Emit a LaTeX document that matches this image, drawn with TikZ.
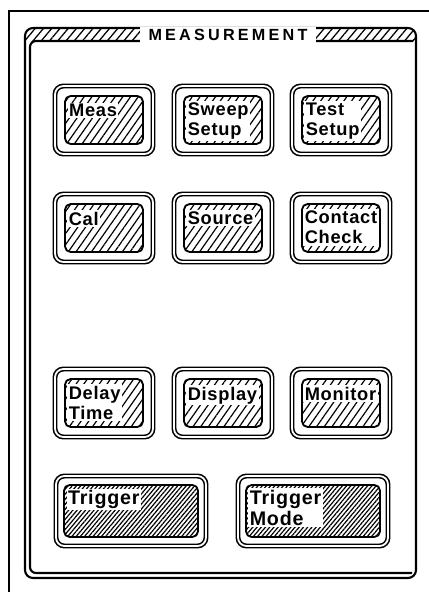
\documentclass[tikz,border=0pt]{standalone}
\usepackage{fontspec}
\usetikzlibrary{patterns.meta}
\newfontfamily\keyfont{Liberation Sans Bold}[LetterSpace=4]
\newfontfamily\titlefont{Liberation Sans Bold}[LetterSpace=20]

\tikzset{
  keyrim/.style={draw, double, double distance=1.3pt, line width=1.1pt,
                 rounded corners=6pt, minimum width=24.5mm, minimum height=17mm},
  keyface/.style={draw, line width=1.3pt, rounded corners=4pt,
                  minimum width=19.5mm, minimum height=12mm,
                  pattern={Lines[angle=55,distance=4.5pt,line width=0.85pt]}},
  trigrim/.style={keyrim, minimum width=37.5mm, minimum height=17.5mm},
  trigface/.style={keyface, minimum width=33.5mm, minimum height=13mm,
                   pattern={Lines[angle=50,distance=2.3pt,line width=0.85pt]}},
  keytext/.style={anchor=north west, fill=white, inner sep=1pt, align=left,
                  font=\keyfont\fontsize{13}{14.5}\selectfont},
  trigtext/.style={keytext, font=\keyfont\fontsize{14}{15.5}\selectfont},
  panelline/.style={line width=1.5pt}
}

\begin{document}
\begin{tikzpicture}[x=0.25mm, y=-0.25mm]
    \useasboundingbox (0,0) rectangle (429,592);
    % outer frame (cut by the page)
    \draw[line width=2pt] (9,620) |- (450,11);
    % panel with hatched title band
    \begin{scope}
        \clip[rounded corners=2mm] (25,28) rectangle (416,578);
        \fill[pattern={Lines[angle=50,distance=4.5pt,line width=0.9pt]}]
            (25,28) rectangle (416,41);
    \end{scope}
    \draw[panelline, rounded corners=2mm] (25,28) rectangle (416,578);
    \draw[panelline, rounded corners=1.5mm] (413,41) -| (30,573) -- (412,573);
    \node[fill=white, inner xsep=6pt, inner ysep=1.6pt,
          font=\titlefont\fontsize{11.5}{12.5}\selectfont]
          (title) at (228,35) {MEASUREMENT};

    % first row
    \node[keyrim]  (meas)      at (104,120) {};
    \node[keyface] (measface)  at (meas) {};
    \node[keytext] (meastext)  at ([shift={(3,7)}]measface.north west) {Meas};
    \node[keyrim]  (sweep)     at (223,120) {};
    \node[keyface] (sweepface) at (sweep) {};
    \node[keytext] (sweeptext) at ([shift={(3,6)}]sweepface.north west) {Sweep\\Setup};
    \node[keyrim]  (test)      at (341,120) {};
    \node[keyface] (testface)  at (test) {};
    \node[keytext] (testtext)  at ([shift={(3,6)}]testface.north west) {Test\\Setup};

    % second row
    \node[keyrim]  (cal)         at (104,228) {};
    \node[keyface] (calface)     at (cal) {};
    \node[keytext] (caltext)     at ([shift={(3,7)}]calface.north west) {Cal};
    \node[keyrim]  (source)      at (223,228) {};
    \node[keyface] (sourceface)  at (source) {};
    \node[keytext] (sourcetext)  at ([shift={(3,7)}]sourceface.north west) {Source};
    \node[keyrim]  (contact)     at (341,228) {};
    \node[keyface] (contactface) at (contact) {};
    \node[keytext] (contacttext) at ([shift={(2,6)}]contactface.north west) {Contact\\Check};

    % third row
    \node[keyrim]  (delay)       at (104,403) {};
    \node[keyface] (delayface)   at (delay) {};
    \node[keytext] (delaytext)   at ([shift={(3,6)}]delayface.north west) {Delay\\Time};
    \node[keyrim]  (display)     at (223,403) {};
    \node[keyface] (displayface) at (display) {};
    \node[keytext] (displaytext) at ([shift={(3,7)}]displayface.north west) {Display};
    \node[keyrim]  (monitor)     at (341,403) {};
    \node[keyface] (monitorface) at (monitor) {};
    \node[keytext] (monitortext) at ([shift={(2,7)}]monitorface.north west) {Monitor};

    % trigger keys
    \node[trigrim]  (trig)         at (131,511) {};
    \node[trigface] (trigface)     at (trig) {};
    \node[trigtext] (trigtext)     at ([shift={(3,4)}]trigface.north west) {Trigger};
    \node[trigrim]  (trigmode)     at (313,511) {};
    \node[trigface] (trigmodeface) at (trigmode) {};
    \node[trigtext] (trigmodetext) at ([shift={(3,4)}]trigmodeface.north west) {Trigger\\Mode};
\end{tikzpicture}
\end{document}
